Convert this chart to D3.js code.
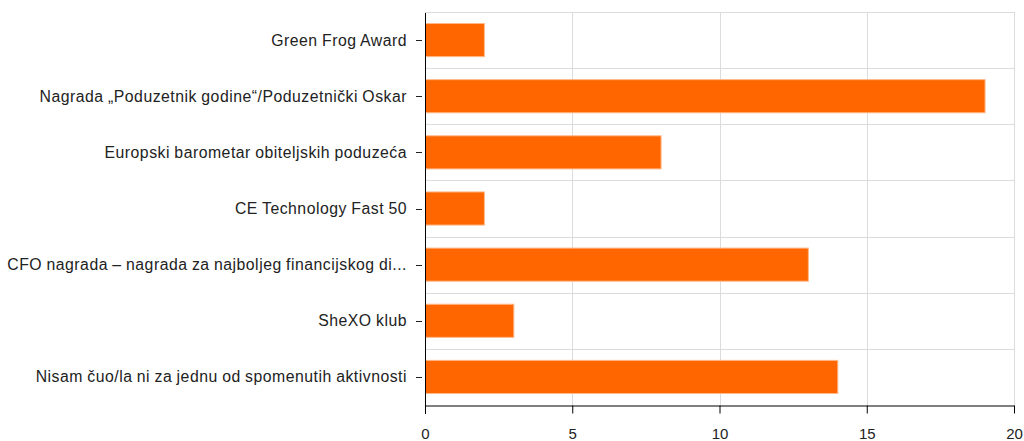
<!DOCTYPE html>
<html>
<head>
<meta charset="utf-8">
<script src="https://cdn.jsdelivr.net/npm/d3@7"></script>
<style>
    body { margin: 0; background: #fff; }
    svg text { font-family: "Liberation Sans", Arial, sans-serif; fill: #222; }
</style>
</head>
<body>
<div class="chart"></div>
<script>
const categories = [
    'Green Frog Award',
    'Nagrada „Poduzetnik godine“/Poduzetnički Oskar',
    'Europski barometar obiteljskih poduzeća',
    'CE Technology Fast 50',
    'CFO nagrada – nagrada za najboljeg financijskog di...',
    'SheXO klub',
    'Nisam čuo/la ni za jednu od spomenutih aktivnosti'
]
const values = [2, 19, 8, 2, 13, 3, 14]
const xTicks = [0, 5, 10, 15, 20]

const width = 1024,
    height = 441
const margin = { top: 12, right: 10, bottom: 36, left: 425 }

const svg = d3.select('.chart').append('svg')
    .attr('width', width)
    .attr('height', height)

const x = d3.scaleLinear()
    .domain([0, 20])
    .range([margin.left, width - margin.right])

const y = d3.scaleBand()
    .domain(categories)
    .range([margin.top, height - margin.bottom])
    .paddingInner(0.41)
    .paddingOuter(0.205)

const step = y.step()

// сетка
const grid = svg.append('g')
grid.selectAll('.vline')
    .data(xTicks.slice(1))
    .enter().append('line')
    .attr('x1', d => Math.round(x(d)) + 0.5)
    .attr('x2', d => Math.round(x(d)) + 0.5)
    .attr('y1', margin.top)
    .attr('y2', height - margin.bottom)
    .style('stroke', '#dcdcdc')
grid.selectAll('.hline')
    .data(d3.range(categories.length))
    .enter().append('line')
    .attr('x1', margin.left)
    .attr('x2', x(20))
    .attr('y1', d => Math.round(margin.top + d * step) + 0.5)
    .attr('y2', d => Math.round(margin.top + d * step) + 0.5)
    .style('stroke', '#dcdcdc')

// бары
svg.append('g').selectAll('rect')
    .data(values)
    .enter().append('rect')
    .attr('x', x(0) + 0.5)
    .attr('y', (d, i) => y(categories[i]))
    .attr('width', d => x(d) - x(0))
    .attr('height', y.bandwidth())
    .style('fill', '#ff6600')
    .style('stroke', '#ffb989')
    .style('stroke-width', 1)

// ось Y
const yAxis = svg.append('g')
yAxis.append('line')
    .attr('x1', margin.left + 0.5)
    .attr('x2', margin.left + 0.5)
    .attr('y1', margin.top)
    .attr('y2', height - margin.bottom + 9)
    .style('stroke', '#000')
yAxis.selectAll('.ytick')
    .data(categories)
    .enter().append('line')
    .attr('x1', margin.left - 9)
    .attr('x2', margin.left - 3)
    .attr('y1', d => Math.round(y(d) + y.bandwidth() / 2) + 0.5)
    .attr('y2', d => Math.round(y(d) + y.bandwidth() / 2) + 0.5)
    .style('stroke', '#222')
yAxis.selectAll('text')
    .data(categories)
    .enter().append('text')
    .attr('x', margin.left - 18)
    .attr('y', d => y(d) + y.bandwidth() / 2)
    .attr('dy', '0.35em')
    .style('text-anchor', 'end')
    .style('font-size', '15.8px')
    .style('letter-spacing', '0.5px')
    .style('word-spacing', '-0.5px')
    .text(d => d)

// ось X
const xAxis = svg.append('g')
    .attr('transform', 'translate(0,' + (height - margin.bottom + 0.5) + ')')
    .call(d3.axisBottom(x).tickValues(xTicks).tickSize(8).tickSizeOuter(0))
xAxis.select('.domain').style('stroke', '#000')
xAxis.selectAll('.tick line').style('stroke', '#000')
xAxis.selectAll('.tick text')
    .attr('y', 23)
    .style('font-size', '15px')
    .style('font-family', '"Liberation Sans", Arial, sans-serif')
    .style('fill', '#222')

// верхняя рамка
svg.append('line')
    .attr('x1', margin.left)
    .attr('x2', x(20))
    .attr('y1', margin.top + 0.5)
    .attr('y2', margin.top + 0.5)
    .style('stroke', '#dcdcdc')
</script>
</body>
</html>
